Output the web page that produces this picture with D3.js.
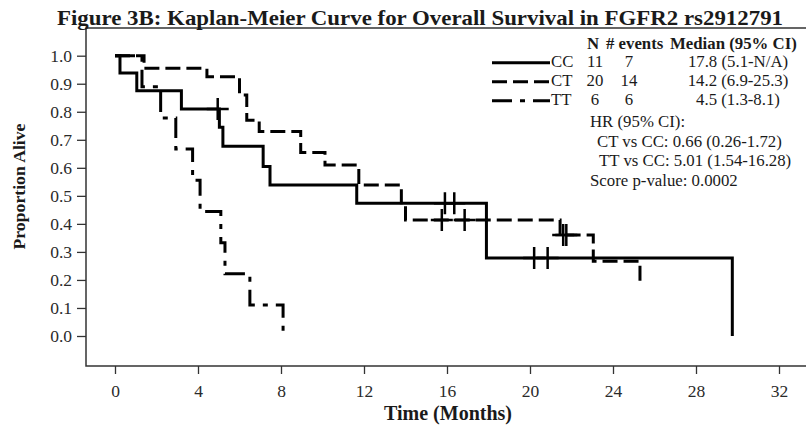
<!DOCTYPE html>
<html>
<head>
<meta charset="utf-8">
<script src="https://cdn.jsdelivr.net/npm/d3@7"></script>
<style>
  html, body { margin: 0; padding: 0; background: #fff; }
  svg { display: block; font-family: "Liberation Serif", "Times New Roman", serif; }
</style>
</head>
<body>
<div id="chart"></div>
<script>
// ── data ──
const ccTime = [0, 0.24, 1.05, 3.2, 5.03, 5.2, 7.14, 7.47, 11.65, 17.9, 29.75];
const ccSurv = [1, 0.938, 0.875, 0.81, 0.745, 0.677, 0.605, 0.539, 0.474, 0.278, 0];
const ccCensor = [4.95, 15.9, 16.35, 20.2, 20.85];

const ctTime = [0, 1.4, 4.43, 6.0, 6.35, 6.95, 8.95, 10.12, 11.75, 13.8, 14.0, 21.45, 23.05, 25.3];
const ctSurv = [1, 0.955, 0.925, 0.86, 0.77, 0.73, 0.655, 0.61, 0.539, 0.475, 0.414, 0.36, 0.267, 0.176];
const ctCensor = [15.75, 16.85, 21.6, 21.75];

const ttTime = [0, 1.3, 2.2, 2.93, 3.74, 4.1, 5.1, 5.3, 6.5, 8.1];
const ttSurv = [1, 0.889, 0.778, 0.667, 0.556, 0.444, 0.333, 0.222, 0.111, 0];
const ttCensor = [];

const groups = ["CC", "CT", "TT"];
const groupN = ["11", "20", "6"];
const groupEvents = ["7", "14", "6"];
const groupMedian = ["17.8 (5.1-N/A)", "14.2 (6.9-25.3)", "4.5 (1.3-8.1)"];
const statLines = ["HR (95% CI):", "CT vs CC: 0.66 (0.26-1.72)", "TT vs CC: 5.01 (1.54-16.28)", "Score p-value: 0.0002"];

const xTicks = [0, 4, 8, 12, 16, 20, 24, 28, 32];
const yTicks = [0, 0.1, 0.2, 0.3, 0.4, 0.5, 0.6, 0.7, 0.8, 0.9, 1.0];

// ── layout ──
const width = 806, height = 440;
const frame = { left: 86, top: 28, bottom: 366, right: 812 };
const dashes = ["none", "15,6", "20,8,5,8"];
const ink = "#1a1a1a";

const x = d3.scaleLinear().domain([0, 32]).range([115, 779]);
const y = d3.scaleLinear().domain([0, 1]).range([336, 55.7]);

const svg = d3.select("#chart").append("svg")
  .attr("width", width).attr("height", height)
  .attr("viewBox", [0, 0, width, height]);

svg.append("rect").attr("width", width).attr("height", height).attr("fill", "#fff");

// frame (right side runs off the picture)
svg.append("path")
  .attr("fill", "none").attr("stroke", "#333").attr("stroke-width", 1.5)
  .attr("d", `M${frame.right},${frame.top}H${frame.left}V${frame.bottom}H${frame.right}`);

// axes
const yAxis = svg.append("g")
  .attr("transform", `translate(${frame.left},0)`)
  .call(d3.axisLeft(y).tickValues(yTicks).tickFormat(d3.format(".1f")).tickSize(9).tickPadding(5));
const xAxis = svg.append("g")
  .attr("transform", `translate(0,${frame.bottom})`)
  .call(d3.axisBottom(x).tickValues(xTicks).tickSize(8).tickPadding(10.5));
[xAxis, yAxis].forEach(g => {
  g.select(".domain").remove();
  g.selectAll("line").attr("stroke", "#333").attr("stroke-width", 1.3);
  g.selectAll("text").attr("fill", "#2a2a2a").attr("font-size", "17.5px")
    .attr("font-family", "'Liberation Serif', 'Times New Roman', serif");
});

// axis titles
svg.append("text")
  .attr("x", 448).attr("y", 420).attr("text-anchor", "middle")
  .attr("font-size", "20px").attr("font-weight", "700").attr("fill", ink)
  .text("Time (Months)");
svg.append("text")
  .attr("transform", "translate(25,186.5) rotate(-90)").attr("text-anchor", "middle")
  .attr("font-size", "17.7px").attr("font-weight", "700").attr("fill", ink)
  .text("Proportion Alive");

// title
svg.append("text")
  .attr("x", 57).attr("y", 24.5)
  .attr("font-size", "22px").attr("font-weight", "700").attr("fill", ink)
  .attr("textLength", 726).attr("lengthAdjust", "spacingAndGlyphs")
  .text("Figure 3B: Kaplan-Meier Curve for Overall Survival in FGFR2 rs2912791");

// ── curves ──
const series = [
  { t: ccTime, s: ccSurv, c: ccCensor },
  { t: ctTime, s: ctSurv, c: ctCensor },
  { t: ttTime, s: ttSurv, c: ttCensor }
];
const step = d3.line().curve(d3.curveStepAfter).x(d => x(d[0])).y(d => y(d[1]));
const survAt = (d, t) => d.s[d3.bisectRight(d.t, t) - 1];

svg.append("g")
  .attr("fill", "none").attr("stroke", "#000").attr("stroke-width", 3)
  .selectAll("path").data(series).join("path")
  .attr("stroke-dasharray", (d, i) => dashes[i])
  .attr("d", d => step(d.t.map((t, i) => [t, d.s[i]])));

// censor marks
const censorPts = series.flatMap(d => d.c.map(t => [t, survAt(d, t)]));
svg.append("g")
  .attr("fill", "none").attr("stroke", "#000").attr("stroke-width", 2.5)
  .selectAll("path").data(censorPts).join("path")
  .attr("d", d => `M${x(d[0])},${y(d[1]) - 11}v22M${x(d[0]) - 11},${y(d[1])}h22`);

// ── legend ──
const leg = svg.append("g").attr("font-size", "16.8px").attr("fill", ink);
const rowY = [62.7, 81.7, 100.7];

leg.append("text").attr("x", 593).attr("y", 49).attr("text-anchor", "middle").attr("font-weight", "700").text("N");
leg.append("text").attr("x", 606).attr("y", 49).attr("font-weight", "700").text("# events");
leg.append("text").attr("x", 670).attr("y", 49).attr("font-weight", "700").text("Median (95% CI)");

const row = leg.selectAll("g.row").data(groups).join("g").attr("class", "row")
  .attr("transform", (d, i) => `translate(0,${rowY[i]})`);
row.append("line")
  .attr("x1", 492).attr("x2", 550)
  .attr("stroke", "#000").attr("stroke-width", 3)
  .attr("stroke-dasharray", (d, i) => dashes[i]);
row.append("text").attr("x", 551).attr("y", 4.5).text(d => d);
row.append("text").attr("x", 595).attr("y", 4.5).attr("text-anchor", "middle").text((d, i) => groupN[i]);
row.append("text").attr("x", 629).attr("y", 4.5).attr("text-anchor", "middle").text((d, i) => groupEvents[i]);
row.append("text").attr("x", 738).attr("y", 4.5).attr("text-anchor", "middle").text((d, i) => groupMedian[i]);

const statX = [590, 597, 599, 590];
const statY = [126.5, 146.5, 166, 185.5];
leg.selectAll("text.stat").data(statLines).join("text").attr("class", "stat")
  .attr("x", (d, i) => statX[i]).attr("y", (d, i) => statY[i])
  .text(d => d);
</script>
</body>
</html>
